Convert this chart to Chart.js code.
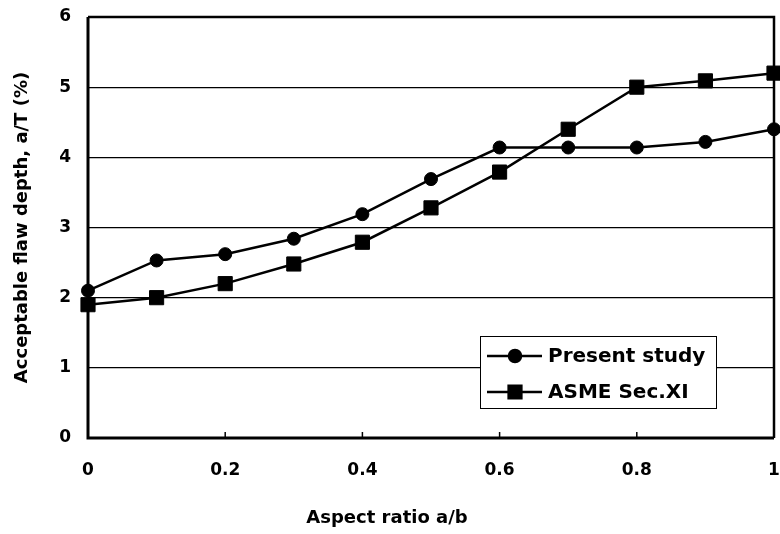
<!DOCTYPE html>
<html>
<head>
<meta charset="utf-8">
<script src="https://cdn.jsdelivr.net/npm/chart.js@4/dist/chart.umd.min.js"></script>
<style>
  html, body { margin: 0; padding: 0; background: #fff; }
  #wrap { width: 780px; height: 534px; }
</style>
</head>
<body>
<div id="wrap"><canvas id="flawChart" width="780" height="534"></canvas></div>
<script>
// Aspect ratio a/b on the x axis
const aspectRatio = [0, 0.1, 0.2, 0.3, 0.4, 0.5, 0.6, 0.7, 0.8, 0.9, 1.0];
// Acceptable flaw depth a/T (%)
const presentStudy = [2.1, 2.53, 2.62, 2.84, 3.19, 3.69, 4.14, 4.14, 4.14, 4.22, 4.4];
const asmeSecXI = [1.9, 2.0, 2.2, 2.48, 2.79, 3.28, 3.79, 4.4, 5.0, 5.09, 5.2];
const seriesNames = ['Present study', 'ASME Sec.XI'];
const xTicks = [0, 0.2, 0.4, 0.6, 0.8, 1];

const FONT = '"DejaVu Sans", sans-serif';

const toPoints = ys => ys.map((y, i) => ({ x: aspectRatio[i], y }));

// frame round the plot area plus small inward ticks on the bottom axis
const framePlugin = {
    id: 'frame',
    beforeDatasetsDraw(chart) {
        const { ctx, chartArea: a, scales } = chart;
        ctx.save();
        ctx.strokeStyle = '#000';
        ctx.lineWidth = 3;
        ctx.beginPath();
        ctx.moveTo(a.left, a.top);
        ctx.lineTo(a.left, a.bottom);
        ctx.lineTo(a.right, a.bottom);
        ctx.stroke();
        ctx.lineWidth = 2.5;
        ctx.beginPath();
        ctx.moveTo(a.left, a.top);
        ctx.lineTo(a.right, a.top);
        ctx.lineTo(a.right, a.bottom);
        ctx.stroke();
        ctx.lineWidth = 1.5;
        xTicks.slice(1, -1).forEach(v => {
            const px = scales.x.getPixelForValue(v);
            ctx.beginPath();
            ctx.moveTo(px, a.bottom);
            ctx.lineTo(px, a.bottom - 6);
            ctx.stroke();
        });
        ctx.restore();
    }
};

// boxed legend sitting inside the plot, lower right
const boxLegend = {
    id: 'boxLegend',
    afterDatasetsDraw(chart) {
        const { ctx } = chart;
        const x = 480, y = 336, w = 236, h = 72;
        ctx.save();
        ctx.fillStyle = '#fff';
        ctx.fillRect(x, y, w, h);
        ctx.strokeStyle = '#000';
        ctx.lineWidth = 1;
        ctx.strokeRect(x + 0.5, y + 0.5, w, h);
        chart.data.datasets.forEach((ds, i) => {
            const cy = y + 20 + i * 36;
            ctx.strokeStyle = '#000';
            ctx.lineWidth = ds.borderWidth;
            ctx.beginPath();
            ctx.moveTo(x + 7, cy);
            ctx.lineTo(x + 62, cy);
            ctx.stroke();
            Chart.helpers.drawPoint(ctx, {
                pointStyle: ds.pointStyle,
                radius: ds.pointStyle === 'rect' ? 9 : 6,
                borderWidth: 1,
                rotation: 0
            }, x + 35, cy);
            ctx.fillStyle = '#000';
            ctx.fill();
            ctx.font = 'bold 20px ' + FONT;
            ctx.textBaseline = 'middle';
            ctx.fillText(ds.label, x + 68, cy + 1);
        });
        ctx.restore();
    }
};

new Chart(document.getElementById('flawChart'), {
    type: 'line',
    data: {
        datasets: [
            {
                label: seriesNames[0],
                data: toPoints(presentStudy),
                borderColor: '#000',
                backgroundColor: '#000',
                borderWidth: 2.5,
                pointStyle: 'circle',
                pointRadius: 6.5,
                pointBorderWidth: 1,
                clip: false
            },
            {
                label: seriesNames[1],
                data: toPoints(asmeSecXI),
                borderColor: '#000',
                backgroundColor: '#000',
                borderWidth: 2.5,
                pointStyle: 'rect',
                pointRadius: 10,
                pointBorderWidth: 1,
                clip: false
            }
        ]
    },
    options: {
        responsive: false,
        animation: false,
        layout: {
            autoPadding: false,
            padding: { top: 17, right: 6, left: 0, bottom: 0 }
        },
        plugins: {
            legend: { display: false },
            tooltip: { enabled: false },
            title: {
                display: true,
                position: 'bottom',
                text: 'Aspect ratio a/b',
                color: '#000',
                font: { family: FONT, size: 18, weight: 'bold' },
                padding: { top: 0, bottom: 5 }
            }
        },
        scales: {
            x: {
                type: 'linear',
                min: 0,
                max: 1,
                afterBuildTicks(scale) {
                    scale.ticks = xTicks.map(v => ({ value: v }));
                },
                afterFit(scale) {
                    scale.height = 69.4;
                    scale.paddingLeft = 0;
                    scale.paddingRight = 0;
                },
                grid: { display: false, drawTicks: false },
                border: { display: false },
                ticks: {
                    color: '#000',
                    padding: 22,
                    maxRotation: 0,
                    callback: v => String(+v.toFixed(1)),
                    font: { family: FONT, size: 17, weight: 'bold' }
                }
            },
            y: {
                min: 0,
                max: 6,
                afterFit(scale) {
                    scale.width = 88;
                    scale.paddingTop = 0;
                    scale.paddingBottom = 0;
                },
                grid: {
                    color: '#000',
                    lineWidth: 1.2,
                    drawTicks: false
                },
                border: { display: false },
                ticks: {
                    stepSize: 1,
                    color: '#000',
                    padding: 17,
                    font: { family: FONT, size: 17, weight: 'bold' }
                },
                title: {
                    display: true,
                    text: 'Acceptable flaw depth, a/T (%)',
                    color: '#000',
                    font: { family: FONT, size: 18, weight: 'bold' },
                    padding: { top: 12, bottom: 0 }
                }
            }
        }
    },
    plugins: [framePlugin, boxLegend]
});
</script>
</body>
</html>
